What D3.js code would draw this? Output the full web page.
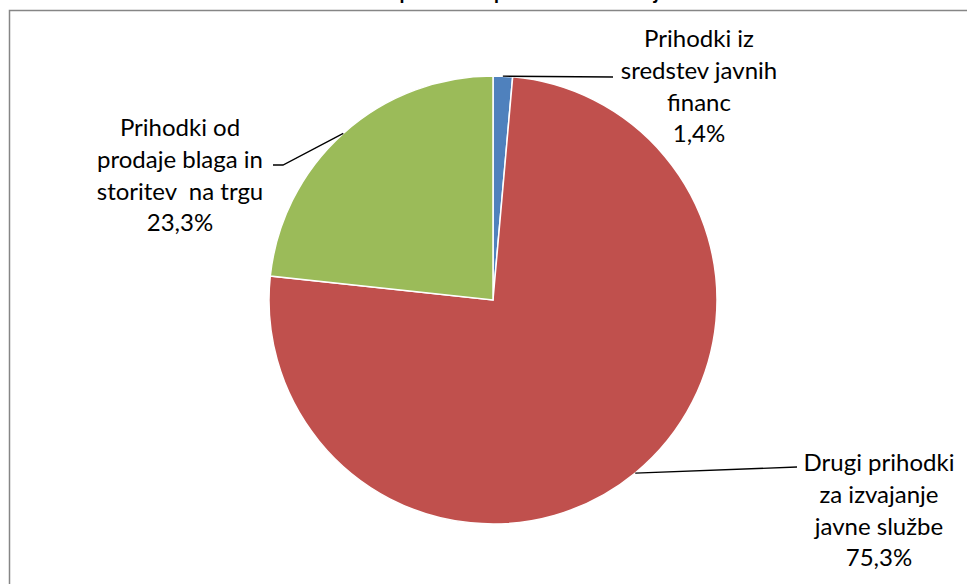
<!DOCTYPE html>
<html>
<head>
<meta charset="utf-8">
<script src="https://cdn.jsdelivr.net/npm/d3@7"></script>
<style>
  body { margin: 0; background: #fff; }
  svg { display: block; font-family: Lato, "Open Sans", sans-serif; }
</style>
</head>
<body>
<div class="chart-wrapper"></div>
<script>
const categories = ['Prihodki iz sredstev javnih financ', 'Drugi prihodki za izvajanje javne službe', 'Prihodki od prodaje blaga in storitev  na trgu'];
const values = [1.4, 75.3, 23.3];
const labelLines = [
    ['Prihodki iz', 'sredstev javnih', 'financ', '1,4%'],
    ['Drugi prihodki', 'za izvajanje', 'javne službe', '75,3%'],
    ['Prihodki od', 'prodaje blaga in', 'storitev  na trgu', '23,3%'],
];
const colors = ['#4f81bd', '#c0504d', '#9bbb59'];

function drawChart() {
    const dimentions = {
        width: 967,
        height: 584,
        cx: 493,
        cy: 300,
        radius: 224,
    };

    const data = categories.map((c, i) => ({ name: c, value: values[i], lines: labelLines[i], color: colors[i] }));

    const wrapper = d3.select('.chart-wrapper')
        .append('svg')
        .attr('width', dimentions.width)
        .attr('height', dimentions.height);

    // title (cut off at the top in the original)
    wrapper.append('text')
        .attr('x', 490)
        .attr('y', -1)
        .attr('text-anchor', 'middle')
        .style('font-size', '20px')
        .style('font-weight', 'bold')
        .text('Struktura prihodkov po virih financiranja');

    // chart area border
    wrapper.append('rect')
        .attr('x', 9.5)
        .attr('y', 10.5)
        .attr('width', 1000)
        .attr('height', 600)
        .attr('fill', 'none')
        .attr('stroke', '#868686')
        .attr('stroke-width', 1.5);

    const bounds = wrapper.append('g')
        .attr('transform', `translate(${dimentions.cx}, ${dimentions.cy})`);

    const pie = d3.pie()
        .sort(null)
        .value(d => d.value);

    const arcs = pie(data);

    const arc = d3.arc()
        .innerRadius(0)
        .outerRadius(dimentions.radius);

    bounds.selectAll('path.slice')
        .data(arcs)
        .join('path')
        .attr('class', 'slice')
        .attr('d', arc)
        .attr('fill', d => d.data.color)
        .attr('stroke', '#fff')
        .attr('stroke-width', 1.5);

    // label positions relative to pie centre
    const labelPos = [
        { x: 206, y: -253, lineEnd: [[120, -223]] },
        { x: 386, y: 171, lineEnd: [[304, 167]] },
        { x: -313, y: -164, lineEnd: [[-210, -135], [-220, -135]] },
    ];
    const lineHeight = 31.8;

    arcs.forEach((a, i) => {
        const mid = (a.startAngle + a.endAngle) / 2;
        const start = [dimentions.radius * Math.sin(mid), -dimentions.radius * Math.cos(mid)];
        const pts = [start].concat(labelPos[i].lineEnd);
        bounds.append('path')
            .attr('d', d3.line()(pts))
            .attr('fill', 'none')
            .attr('stroke', '#000')
            .attr('stroke-width', 1.3);

        const t = bounds.append('text')
            .attr('text-anchor', 'middle')
            .style('font-size', '24px')
            .attr('fill', '#000');
        a.data.lines.forEach((line, j) => {
            t.append('tspan')
                .attr('x', labelPos[i].x)
                .attr('y', labelPos[i].y + j * lineHeight)
                .style('white-space', 'pre')
                .text(line);
        });
    });
}

drawChart();
</script>
</body>
</html>
